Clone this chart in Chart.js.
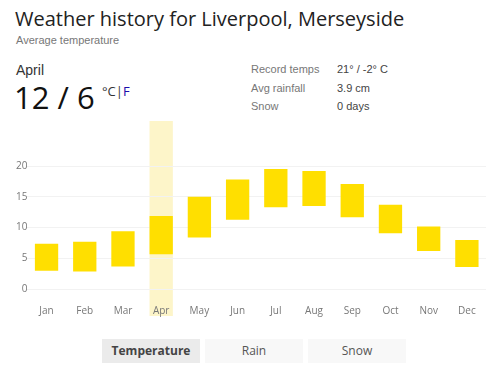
<!DOCTYPE html>
<html>
<head>
<meta charset="utf-8">
<script src="https://cdn.jsdelivr.net/npm/chart.js@4"></script>
<style>
  body { margin: 0; background: #fff; font-family: "Open Sans", "Noto Sans", sans-serif; color: #222; }
  .wrap { position: relative; width: 500px; height: 370px; overflow: hidden; }
  .title { position: absolute; left: 15px; top: 5px; font-size: 20px; color: #222; }
  .sub { position: absolute; left: 16px; top: 34px; font-size: 11px; color: #777; font-family: "Liberation Sans", Arial, sans-serif; }
  .month { position: absolute; left: 16px; top: 62px; font-size: 14px; color: #333; font-family: "Liberation Sans", Arial, sans-serif; }
  .temp { position: absolute; left: 14px; top: 76px; font-size: 31px; color: #111; }
  .unit { position: absolute; left: 102px; top: 82px; font-size: 13px; color: #333; }
  .unit a { color: #1a0dab; text-decoration: none; }
  .facts { position: absolute; left: 251px; top: 60px; font-size: 11px; color: #777; line-height: 18.5px; font-family: "Liberation Sans", Arial, sans-serif; }
  .facts span { display: inline-block; width: 86px; }
  .facts b { font-weight: normal; color: #444; }
  #box { position: absolute; left: 0; top: 115px; width: 500px; height: 210px; }
  .btn { position: absolute; top: 339px; height: 24px; width: 98px; line-height: 24px; text-align: center; font-size: 12px; color: #555; background: #f8f8f8; }
  .btn.on { background: #ebebeb; font-weight: bold; color: #444; }
</style>
</head>
<body>
<div class="wrap">
  <div class="title">Weather history for Liverpool, Merseyside</div>
  <div class="sub">Average temperature</div>
  <div class="month">April</div>
  <div class="temp">12 / 6</div>
  <div class="unit">°C|<a>F</a></div>
  <div class="facts">
    <div><span>Record temps</span><b>21° / -2° C</b></div>
    <div><span>Avg rainfall</span><b>3.9 cm</b></div>
    <div><span>Snow</span><b>0 days</b></div>
  </div>
  <div id="box"><canvas id="tempChart"></canvas></div>
  <div class="btn on" style="left:102px">Temperature</div>
  <div class="btn" style="left:205px">Rain</div>
  <div class="btn" style="left:308px">Snow</div>
</div>
<script>
const months = ["Jan", "Feb", "Mar", "Apr", "May", "Jun", "Jul", "Aug", "Sep", "Oct", "Nov", "Dec"];
const lows = [3.0, 2.9, 3.7, 5.7, 8.4, 11.3, 13.3, 13.5, 11.7, 9.1, 6.2, 3.6];
const highs = [7.4, 7.7, 9.4, 11.9, 15.0, 17.8, 19.5, 19.2, 17.1, 13.7, 10.2, 8.0];
const yTicks = [0, 5, 10, 15, 20];
const selected = 3;

// pale band behind the selected month, drawn before the axes so the label stays on top
const highlight = {
    id: "highlight",
    beforeDraw(chart) {
        const bar = chart.getDatasetMeta(0).data[selected];
        if (!bar) return;
        const c = chart.ctx;
        const top = chart.chartArea.top;
        c.save();
        c.fillStyle = "#fdf5c9";
        c.fillRect(bar.x - bar.width / 2, top, bar.width, chart.scales.x.bottom - 5 - top);
        c.restore();
    }
};

new Chart("tempChart", {
    type: "bar",
    data: {
        labels: months,
        datasets: [{
            data: months.map((m, i) => [lows[i], highs[i]]),
            backgroundColor: "#ffdf00",
            borderWidth: 0,
            barPercentage: 0.61,
            categoryPercentage: 1
        }]
    },
    options: {
        responsive: true,
        maintainAspectRatio: false,
        animation: false,
        layout: { padding: { left: 16, right: 14, top: 0, bottom: 4 } },
        plugins: { legend: { display: false }, tooltip: { enabled: false } },
        scales: {
            x: {
                grid: { display: false },
                border: { display: false },
                ticks: { color: "#777", font: { size: 10, family: "Open Sans" }, padding: 4 }
            },
            y: {
                min: -0.6,
                max: 27.3,
                afterBuildTicks: (axis) => { axis.ticks = yTicks.map(v => ({ value: v })); },
                grid: { color: "#f2f2f2", drawTicks: false },
                border: { display: false },
                ticks: { color: "#777", font: { size: 10, family: "Open Sans" }, padding: 0 }
            }
        }
    },
    plugins: [highlight]
});
</script>
</body>
</html>
